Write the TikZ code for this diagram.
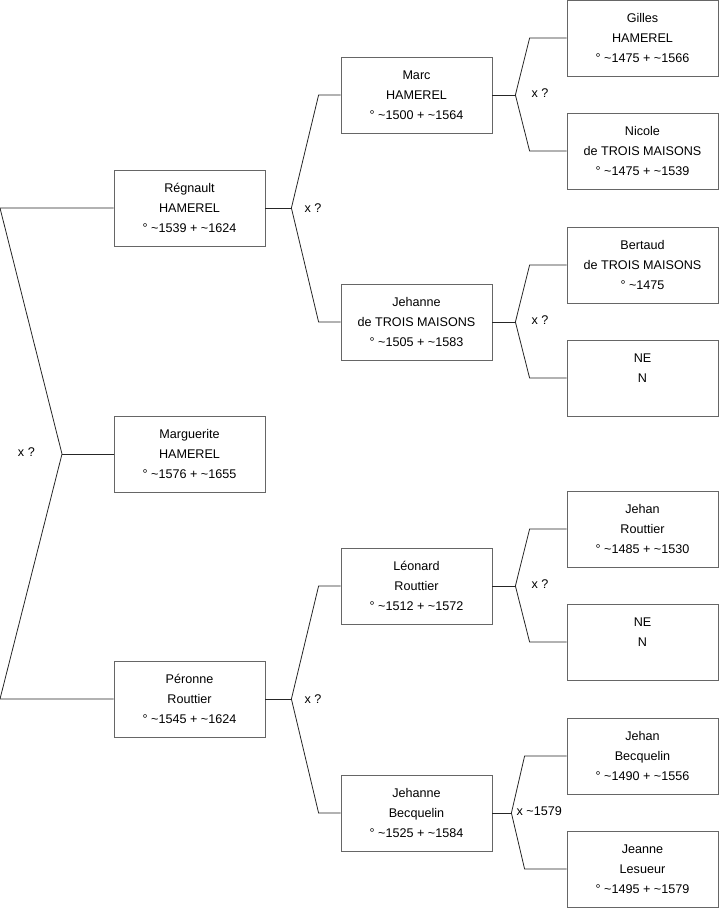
\documentclass[tikz,border=0pt]{standalone}
\usepackage{fontspec}
\setmainfont{Liberation Sans}
\usetikzlibrary{calc,positioning}
\newcommand{\abt}{\textasciitilde}

\begin{document}
\begin{tikzpicture}[x=1pt,y=-1pt,
  person/.style={draw=black!60,line width=.8pt,minimum width=151pt,minimum height=76pt,inner sep=0pt,align=center,font=\fontsize{12.6}{20}\selectfont},
  link/.style={draw=black!85,line width=.8pt},
  lbl/.style={font=\fontsize{12.6}{14}\selectfont,inner sep=0pt}]
\useasboundingbox (0,0) rectangle (719,908);
\node[person] (reg) at (189.5,208) {Régnault\\HAMEREL\\° \abt1539 + \abt1624};
\node[person] (marg) at (189.5,454) {Marguerite\\HAMEREL\\° \abt1576 + \abt1655};
\node[person] (per) at (189.5,699) {Péronne\\Routtier\\° \abt1545 + \abt1624};
\node[person] (marc) at (416.5,95) {Marc\\HAMEREL\\° \abt1500 + \abt1564};
\node[person] (jehtm) at (416.5,322) {Jehanne\\de TROIS MAISONS\\° \abt1505 + \abt1583};
\node[person] (leo) at (416.5,586) {Léonard\\Routtier\\° \abt1512 + \abt1572};
\node[person] (jehb) at (416.5,813) {Jehanne\\Becquelin\\° \abt1525 + \abt1584};
\node[person] (gil) at (642.5,38) {Gilles\\HAMEREL\\° \abt1475 + \abt1566};
\node[person] (nic) at (642.5,151) {Nicole\\de TROIS MAISONS\\° \abt1475 + \abt1539};
\node[person] (ber) at (642.5,265) {Bertaud\\de TROIS MAISONS\\° \abt1475};
\node[person] (ne1) at (642.5,378) {NE\\N\\\phantom{N}};
\node[person] (jr) at (642.5,529) {Jehan\\Routtier\\° \abt1485 + \abt1530};
\node[person] (ne2) at (642.5,642) {NE\\N\\\phantom{N}};
\node[person] (jb) at (642.5,756) {Jehan\\Becquelin\\° \abt1490 + \abt1556};
\node[person] (jl) at (642.5,869) {Jeanne\\Lesueur\\° \abt1495 + \abt1579};

\coordinate (l1) at (0,208); \coordinate (l2) at (62,454); \coordinate (l3) at (0,699);
\draw[link] (reg.west) -- (l1) -- (l2) -- (l3) -- (per.west);
\draw[link] (l2) -- (marg.west);
\node[lbl,anchor=east] at ($(l2)+(-27,-2)$) {x ?};

\coordinate (j1) at ($(reg.east)+(26,0)$);
\draw[link] (reg.east) -- (j1);
\draw[link] (marc.west) -- ++(-22,0) -- (j1) -- ($(jehtm.west)+(-22,0)$) -- (jehtm.west);
\node[lbl,anchor=west] at ($(j1)+(13,0)$) {x ?};

\coordinate (j2) at ($(per.east)+(26,0)$);
\draw[link] (per.east) -- (j2);
\draw[link] (leo.west) -- ++(-22,0) -- (j2) -- ($(jehb.west)+(-22,0)$) -- (jehb.west);
\node[lbl,anchor=west] at ($(j2)+(13,0)$) {x ?};

\coordinate (j3) at ($(marc.east)+(23,0)$);
\draw[link] (marc.east) -- (j3);
\draw[link] (gil.west) -- ++(-37,0) -- (j3) -- ($(nic.west)+(-37,0)$) -- (nic.west);
\node[lbl,anchor=west] at ($(j3)+(16,-2)$) {x ?};

\coordinate (j4) at ($(jehtm.east)+(23,0)$);
\draw[link] (jehtm.east) -- (j4);
\draw[link] (ber.west) -- ++(-37,0) -- (j4) -- ($(ne1.west)+(-37,0)$) -- (ne1.west);
\node[lbl,anchor=west] at ($(j4)+(16,-2)$) {x ?};

\coordinate (j5) at ($(leo.east)+(23,0)$);
\draw[link] (leo.east) -- (j5);
\draw[link] (jr.west) -- ++(-37,0) -- (j5) -- ($(ne2.west)+(-37,0)$) -- (ne2.west);
\node[lbl,anchor=west] at ($(j5)+(16,-2)$) {x ?};

\coordinate (j6) at ($(jehb.east)+(19,0)$);
\draw[link] (jehb.east) -- (j6);
\draw[link] (jb.west) -- ++(-42,0) -- (j6) -- ($(jl.west)+(-42,0)$) -- (jl.west);
\node[lbl,anchor=west] at ($(j6)+(5,-2)$) {x \abt1579};
\end{tikzpicture}
\end{document}
